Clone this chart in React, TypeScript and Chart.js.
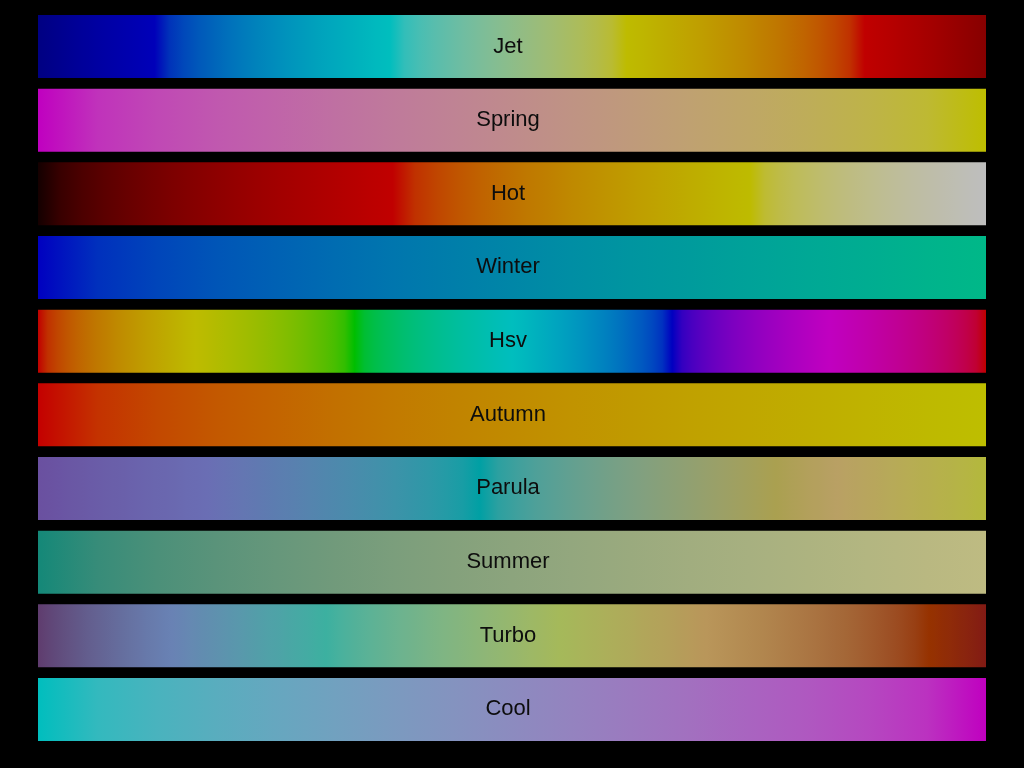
import React, { useEffect, useRef } from "react";
import { Chart, registerables } from "chart.js";

Chart.register(...registerables);

// Colormap names (one bar each) and the bar extents (each spans the whole 0..1 range)
const categories = ["Jet", "Spring", "Hot", "Winter", "Hsv", "Autumn", "Parula", "Summer", "Turbo", "Cool"];
const barValues = [1, 1, 1, 1, 1, 1, 1, 1, 1, 1];

// Colormap key colours as [position, colour]
const jetStops: [number, string][] = [[0, "#000082"], [0.123, "#0000b9"], [0.371, "#00bebe"], [0.621, "#bebb00"], [0.872, "#c00000"], [1, "#860000"]];
const springStops: [number, string][] = [[0, "#c000c0"], [1, "#bebe00"]];
const hotStops: [number, string][] = [[0, "#140000"], [0.374, "#c00000"], [0.751, "#bebb00"], [1, "#bebebe"]];
const winterStops: [number, string][] = [[0, "#0000c0"], [1, "#00b888"]];
const hsvStops: [number, string][] = [[0, "#c00000"], [0.166, "#bebb00"], [0.334, "#00be00"], [0.5, "#00bebe"], [0.669, "#0000c0"], [0.835, "#c000c0"], [1, "#c00000"]];
const autumnStops: [number, string][] = [[0, "#c40000"], [1, "#bebe00"]];
const parulaStops: [number, string][] = [[0, "#6a50a0"], [0.179, "#6a6eb4"], [0.466, "#00a0a4"], [0.778, "#aaa050"], [0.843, "#b9a064"], [1, "#b4b83c"]];
const summerStops: [number, string][] = [[0, "#148878"], [1, "#bebb82"]];
const turboStops: [number, string][] = [[0, "#5f3c6e"], [0.141, "#6982b4"], [0.304, "#3cb0a0"], [0.55, "#a5b95a"], [0.705, "#b9965a"], [0.94, "#963200"], [1, "#821a14"]];
const coolStops: [number, string][] = [[0, "#00bebe"], [1, "#c000c0"]];

const colormaps = [jetStops, springStops, hotStops, winterStops, hsvStops, autumnStops, parulaStops, summerStops, turboStops, coolStops];

function hexToRgb(h: string): number[] {
  const n = parseInt(h.slice(1), 16);
  return [(n >> 16) & 255, (n >> 8) & 255, n & 255];
}
function toLin(c: number) {
  const s = c / 255;
  return s <= 0.04045 ? s / 12.92 : Math.pow((s + 0.055) / 1.055, 2.4);
}
function fromLin(l: number) {
  const s = l <= 0.0031308 ? l * 12.92 : 1.055 * Math.pow(l, 1 / 2.4) - 0.055;
  return Math.round(Math.max(0, Math.min(1, s)) * 255);
}

function makeGradient(ctx: CanvasRenderingContext2D, left: number, right: number, stops: [number, string][]) {
  const g = ctx.createLinearGradient(left, 0, right, 0);
  const sub = 16;
  for (let i = 0; i < stops.length - 1; i++) {
    const [p0, c0] = stops[i];
    const [p1, c1] = stops[i + 1];
    const a = hexToRgb(c0).map(toLin);
    const b = hexToRgb(c1).map(toLin);
    for (let k = 0; k <= sub; k++) {
      const f = k / sub;
      const rgb = a.map((v, j) => fromLin(v + (b[j] - v) * f));
      g.addColorStop(p0 + (p1 - p0) * f, `rgb(${rgb[0]},${rgb[1]},${rgb[2]})`);
    }
  }
  return g;
}

const labelPlugin = {
  id: "barLabels",
  afterDatasetsDraw(chart: any) {
    const ctx = chart.ctx;
    const meta = chart.getDatasetMeta(0);
    const area = chart.chartArea;
    const cx = (area.left + area.right) / 2 - 4;
    ctx.save();
    ctx.font = '22px "Liberation Sans", Arial, sans-serif';
    ctx.fillStyle = "#0d0d0d";
    ctx.textAlign = "center";
    ctx.textBaseline = "alphabetic";
    meta.data.forEach((el: any, i: number) => {
      ctx.fillText(chart.data.labels[i], cx, el.y + 6);
    });
    ctx.restore();
  },
};

export default function App() {
  const ref = useRef<HTMLCanvasElement>(null);
  useEffect(() => {
    document.body.style.margin = "0";
    document.body.style.background = "#000";
    const canvas = ref.current!;
    const chart = new Chart(canvas, {
      type: "bar",
      data: {
        labels: categories,
        datasets: [
          {
            data: barValues,
            borderWidth: 0,
            categoryPercentage: 0.9,
            barPercentage: 0.95,
            backgroundColor: (c: any) => {
              const area = c.chart.chartArea;
              if (!area) return "#000";
              return makeGradient(c.chart.ctx, area.left, area.right, colormaps[c.dataIndex]);
            },
          },
        ],
      },
      options: {
        indexAxis: "y",
        responsive: false,
        animation: false,
        layout: { padding: { left: 38, right: 38, top: 9.67, bottom: 21.7 } },
        scales: {
          x: { display: false, min: 0, max: 1 },
          y: { display: false },
        },
        plugins: { legend: { display: false }, tooltip: { enabled: false } },
      },
      plugins: [labelPlugin],
    } as any);
    return () => chart.destroy();
  }, []);
  return (
    <div style={{ position: "fixed", left: 0, top: 0, width: 1024, height: 768, background: "#000" }}>
      <canvas ref={ref} width={1024} height={768} style={{ display: "block" }} />
    </div>
  );
}
